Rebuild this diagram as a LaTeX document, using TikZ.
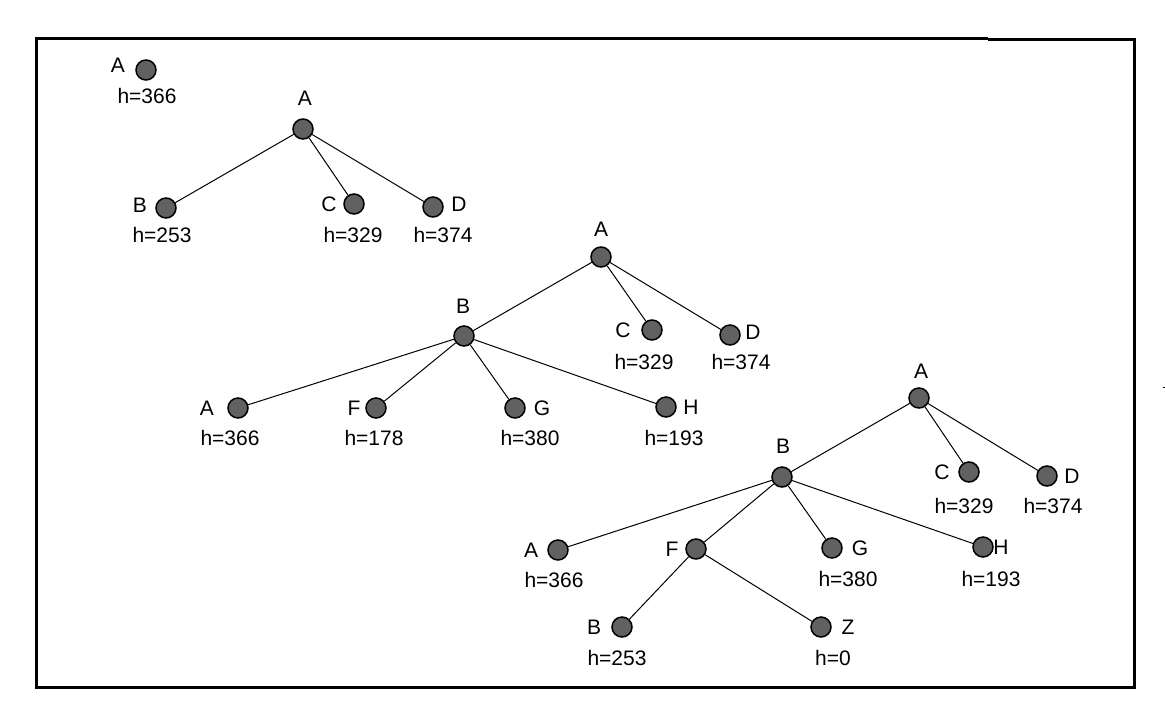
\documentclass[tikz,border=0pt]{standalone}
\usepackage{fontspec}
\setmainfont{Liberation Sans}
\begin{document}
\begin{tikzpicture}[x=1pt,y=-1pt,
  vert/.style={circle,draw=black,line width=1.5pt,fill=black!62,minimum size=20pt,inner sep=0pt},
  lbl/.style={inner sep=0pt,font=\fontsize{21}{23}\selectfont},
  edge/.style={line width=1pt,black},
  frame/.style={line width=3pt,black}]
\useasboundingbox (0,0) rectangle (1165,716);
% frame
\coordinate (f1) at (36,38);
\coordinate (f2) at (988,38);
\coordinate (f3) at (988,39.5);
\coordinate (f4) at (1134,39.5);
\coordinate (f5) at (1134,687.5);
\coordinate (f6) at (36,687.5);
\draw[frame] (f2) -- (f1) -- (f6) -- (f5) -- (f4) -- (f3);
\coordinate (t1) at (1162.5,387);
\coordinate (t2) at (1165,387);
\draw[line width=1pt] (t1) -- (t2);

% tree 0
\node[vert] (a0) at (146,70) {};
\node[lbl] (a0l) at (118,65) {A};
\node[lbl] (a0h) at (147,96) {h=366};

% tree 1
\node[vert] (t1a) at (303,129) {};
\node[vert] (t1b) at (166,208) {};
\node[vert] (t1c) at (354,204) {};
\node[vert] (t1d) at (433,207) {};
\draw[edge] (t1a) -- (t1b);
\draw[edge] (t1a) -- (t1c);
\draw[edge] (t1a) -- (t1d);
\node[lbl] (t1al) at (305,98) {A};
\node[lbl] (t1bl) at (140,205) {B};
\node[lbl] (t1bh) at (162,235) {h=253};
\node[lbl] (t1cl) at (329,204) {C};
\node[lbl] (t1ch) at (353,235) {h=329};
\node[lbl] (t1dl) at (459,204) {D};
\node[lbl] (t1dh) at (443,235) {h=374};

% tree 2
\node[vert] (t2a) at (601,257) {};
\node[vert] (t2b) at (464,336) {};
\node[vert] (t2c) at (652,330) {};
\node[vert] (t2d) at (730,335) {};
\node[vert] (t2a2) at (238,408) {};
\node[vert] (t2f) at (376,408) {};
\node[vert] (t2g) at (515,408) {};
\node[vert] (t2h) at (666,407) {};
\draw[edge] (t2a) -- (t2b);
\draw[edge] (t2a) -- (t2c);
\draw[edge] (t2a) -- (t2d);
\draw[edge] (t2b) -- (t2a2);
\draw[edge] (t2b) -- (t2f);
\draw[edge] (t2b) -- (t2g);
\draw[edge] (t2b) -- (t2h);
\node[lbl] (t2al) at (601,229) {A};
\node[lbl] (t2bl) at (463,306) {B};
\node[lbl] (t2cl) at (623,330) {C};
\node[lbl] (t2ch) at (644,362) {h=329};
\node[lbl] (t2dl) at (753,332) {D};
\node[lbl] (t2dh) at (741,362) {h=374};
\node[lbl] (t2a2l) at (207,408) {A};
\node[lbl] (t2a2h) at (230,438) {h=366};
\node[lbl] (t2fl) at (354,408) {F};
\node[lbl] (t2fh) at (374,438) {h=178};
\node[lbl] (t2gl) at (542,408) {G};
\node[lbl] (t2gh) at (530,438) {h=380};
\node[lbl] (t2hl) at (691,407) {H};
\node[lbl] (t2hh) at (674,438) {h=193};

% tree 3
\node[vert] (t3a) at (919,398) {};
\node[vert] (t3b) at (782,477) {};
\node[vert] (t3c) at (969,472) {};
\node[vert] (t3d) at (1047,476) {};
\node[vert] (t3a2) at (558,550) {};
\node[vert] (t3f) at (696,549) {};
\node[vert] (t3g) at (832,548) {};
\node[vert] (t3h) at (983,547) {};
\node[vert] (t3b2) at (622,627) {};
\node[vert] (t3z) at (821,627) {};
\draw[edge] (t3a) -- (t3b);
\draw[edge] (t3a) -- (t3c);
\draw[edge] (t3a) -- (t3d);
\draw[edge] (t3b) -- (t3a2);
\draw[edge] (t3b) -- (t3f);
\draw[edge] (t3b) -- (t3g);
\draw[edge] (t3b) -- (t3h);
\draw[edge] (t3f) -- (t3b2);
\draw[edge] (t3f) -- (t3z);
\node[lbl] (t3al) at (921,371) {A};
\node[lbl] (t3bl) at (783,446) {B};
\node[lbl] (t3cl) at (942,472) {C};
\node[lbl] (t3ch) at (964,506) {h=329};
\node[lbl] (t3dl) at (1072,476) {D};
\node[lbl] (t3dh) at (1053,506) {h=374};
\node[lbl] (t3a2l) at (531,550) {A};
\node[lbl] (t3a2h) at (554,580) {h=366};
\node[lbl] (t3fl) at (672,549) {F};
\node[lbl] (t3gl) at (860,548) {G};
\node[lbl] (t3gh) at (848,579) {h=380};
\node[lbl] (t3hl) at (1001,547) {H};
\node[lbl] (t3hh) at (991,579) {h=193};
\node[lbl] (t3b2l) at (594,627) {B};
\node[lbl] (t3b2h) at (617,658) {h=253};
\node[lbl] (t3zl) at (848,627) {Z};
\node[lbl] (t3zh) at (833,658) {h=0};
\end{tikzpicture}
\end{document}
